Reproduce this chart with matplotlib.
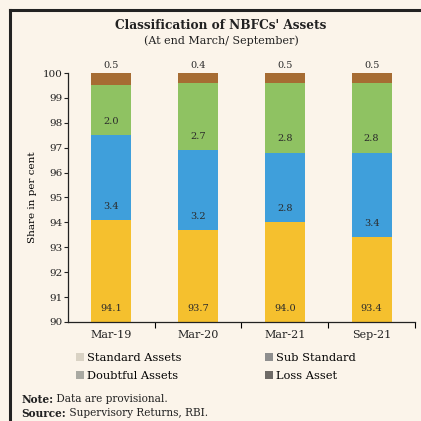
import matplotlib
matplotlib.use('Agg')
import matplotlib.pyplot as plt
import numpy as np
from matplotlib.lines import Line2D
from matplotlib.patches import Patch

plt.rcParams['font.family'] = ['DejaVu Serif']

# data
periods = ['Mar-19', 'Mar-20', 'Mar-21', 'Sep-21']
standard = [94.1, 93.7, 94.0, 93.4]
sub_standard = [3.4, 3.2, 2.8, 3.4]
doubtful = [2.0, 2.7, 2.8, 2.8]
loss = [0.5, 0.4, 0.5, 0.5]
series_names = ['Standard Assets', 'Sub Standard', 'Doubtful Assets', 'Loss Asset']

bar_colors = ['#f5c02e', '#3f9fdb', '#8fc262', '#a66c33']
legend_colors = ['#d9d2c4', '#8e8e8e', '#a9a9a2', '#6e6a66']
bg = '#fbf4ea'

fig = plt.figure(figsize=(4.21, 4.21), dpi=100, facecolor=bg)
ax = fig.add_axes([0.1615, 0.2352, 0.8242, 0.5914])
ax.set_facecolor(bg)

x = np.arange(len(periods))
width = 0.46
bottom = np.zeros(len(periods))
for vals, col in zip([standard, sub_standard, doubtful, loss], bar_colors):
    ax.bar(x, vals, width, bottom=bottom, color=col, zorder=2)
    bottom = bottom + np.array(vals)

ax.set_ylim(90, 100)
ax.set_xlim(-0.5, 3.5)

# value labels near the base of each segment, loss on top
base = np.zeros(len(periods))
for vals in [standard, sub_standard, doubtful]:
    for i, v in enumerate(vals):
        yb = max(base[i], 90)
        ax.text(x[i], yb + 0.55, f'{v:.1f}', ha='center', va='center',
                fontsize=7, color='#2b2b2b', zorder=3)
    base = base + np.array(vals)
for i, v in enumerate(loss):
    ax.text(x[i], 100.3, f'{v:.1f}', ha='center', va='center',
            fontsize=7, color='#2b2b2b', clip_on=False)

ax.set_yticks(np.arange(90, 101, 1))
ax.tick_params(axis='y', labelsize=7.5, length=3, width=0.8, pad=1, colors='#222222')
ax.set_xticks(x)
ax.set_xticklabels(periods, fontsize=8)
ax.set_xticks(x + 0.5, minor=True)
ax.tick_params(axis='x', which='major', length=0, pad=6, colors='#222222')
ax.tick_params(axis='x', which='minor', length=4, width=0.8, direction='out')
for s in ['top', 'right']:
    ax.spines[s].set_visible(False)
for s in ['left', 'bottom']:
    ax.spines[s].set_color('#222222')
    ax.spines[s].set_linewidth(0.9)
ax.set_ylabel('Share in per cent', fontsize=7.5, labelpad=4)

fig.text(0.525, 0.94, "Classification of NBFCs' Assets", ha='center', va='center',
         fontsize=8.7, fontweight='bold', color='#222222')
fig.text(0.525, 0.903, '(At end March/ September)', ha='center', va='center',
         fontsize=8, color='#222222')

handles = [Patch(facecolor=c, edgecolor='none') for c in legend_colors]
fig.legend([handles[0], handles[2], handles[1], handles[3]],
           [series_names[0], series_names[2], series_names[1], series_names[3]],
           ncol=2, loc='center', bbox_to_anchor=(0.513, 0.128), frameon=False,
           fontsize=8.2, handlelength=0.7, handleheight=0.7, handletextpad=0.2,
           columnspacing=7.4, labelspacing=0.75)

# notes: bold lead word followed by plain text
for yy, lead, rest in [(0.052, 'Note:', ' Data are provisional.'),
                       (0.018, 'Source:', ' Supervisory Returns, RBI.')]:
    t = fig.text(0.05, yy, lead, fontsize=7.6, fontweight='bold', va='center',
                 color='#222222')
    ax.annotate(rest, xy=(1, 0.5), xycoords=t, va='center', ha='left',
                fontsize=7.6, color='#222222', annotation_clip=False)

# frame lines at top and left
fig.add_artist(Line2D([0.024, 1.0], [0.976, 0.976], color='#222222', lw=2.2))
fig.add_artist(Line2D([0.024, 0.024], [0.0, 0.976], color='#222222', lw=2.2))

fig.savefig('out.png', dpi=100, facecolor=bg)
